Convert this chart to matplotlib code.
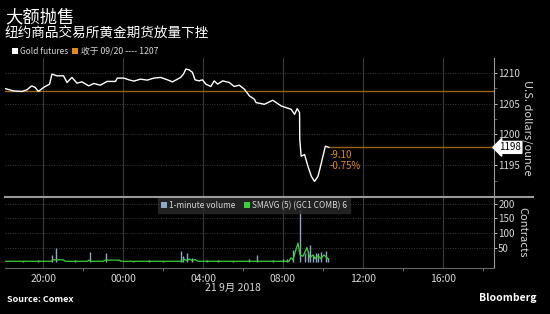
import matplotlib.pyplot as plt
import matplotlib.ticker as mticker

plt.rcParams['font.family'] = ['Noto Sans CJK SC', 'DejaVu Sans']

# hours relative to 21 Sep 00:00 (negative = evening of 20 Sep)
price_hours = [-5.91, -5.49, -5.07, -4.82, -4.57, -4.40, -4.24, -3.98, -3.68, -3.56,
               -3.31, -2.98, -2.81, -2.56, -2.31, -2.06, -1.72, -1.47, -1.14, -0.80,
               -0.38, -0.29, 0.04, 0.29, 0.54, 0.87, 1.21, 1.54, 1.88, 2.22,
               2.47, 2.72, 2.88, 3.02, 3.14, 3.30, 3.47, 3.60, 3.80, 3.97,
               4.14, 4.39, 4.56, 4.73, 4.98, 5.31, 5.56, 5.81, 6.07, 6.32,
               6.57, 6.65, 7.07, 7.49, 7.91, 8.41, 8.58, 8.71, 8.83, 8.84,
               8.91, 9.08, 9.25, 9.42, 9.58, 9.75, 9.88, 10.00, 10.12, 10.29]
price_vals = [1207.45, 1207.06, 1206.97, 1207.23, 1207.88, 1207.62, 1206.97, 1207.62, 1208.16, 1209.79,
              1209.51, 1209.51, 1208.43, 1209.25, 1208.32, 1208.53, 1207.88, 1208.27, 1207.99, 1208.60,
              1208.60, 1209.14, 1209.14, 1208.86, 1208.65, 1208.97, 1208.81, 1209.14, 1209.25, 1208.86,
              1208.53, 1208.97, 1209.25, 1209.79, 1210.60, 1210.49, 1210.07, 1208.86, 1208.69, 1208.86,
              1208.16, 1207.78, 1208.69, 1208.16, 1208.69, 1208.43, 1207.78, 1207.99, 1207.34, 1206.25,
              1205.71, 1205.17, 1204.89, 1205.55, 1204.62, 1204.08, 1203.26, 1204.19, 1203.54, 1199.18,
              1196.46, 1196.74, 1194.83, 1193.20, 1192.38, 1193.20, 1194.83, 1196.46, 1198.09, 1197.90]
prev_close = 1207
last_price = 1197.9

vol_hours = [-5.0, -4.24, -3.56, -3.35, -2.4, -1.64, -0.88, 0.5, 1.3, 2.0,
             2.88, 3.02, 3.22, 3.47, 4.2, 4.73, 5.5, 6.32, 6.70, 7.5,
             8.0, 8.2, 8.50, 8.86, 9.08, 9.25, 9.33, 9.50, 9.63, 9.75,
             9.92, 10.14, 10.26]
vol_vals = [4, 9, 26, 49, 6, 35, 30, 5, 6, 5,
            37, 20, 30, 15, 6, 8, 5, 10, 23, 8,
            10, 12, 43, 179, 33, 37, 60, 23, 30, 33,
            36, 37, 15]

sma_hours = [-5.91, -3.6, -3.5, -3.0, -2.9, -1.8, -1.7, -1.6, -1.0, -0.9,
             -0.2, -0.1, 3.0, 3.05, 3.2, 3.3, 3.45, 3.6, 3.75, 8.3,
             8.4, 8.5, 8.75, 8.85, 9.0, 9.2, 9.35, 9.5, 9.6, 9.75,
             9.9, 10.05, 10.2, 10.29]
sma_vals = [3, 3, 8, 8, 3, 3, 7, 3, 3, 7,
            7, 3, 3, 10, 5, 11, 6, 9, 3, 3,
            15, 8, 66, 25, 20, 50, 15, 25, 12, 22,
            12, 25, 15, 10]

tick_hours = [-4, 0, 4, 8, 12, 16]
tick_labels = ['20:00', '00:00', '04:00', '08:00', '12:00', '16:00']

bg = 'black'
grid_c = '#3a3a3a'
txt_c = '#d8d8d8'
orange = '#e08a1e'
orange_line = '#9a6414'

fig = plt.figure(figsize=(5.5, 3.14), dpi=100, facecolor=bg)
ax1 = fig.add_axes([5/550, 117.3/314, 489/550, 138.7/314], facecolor=bg)
ax2 = fig.add_axes([5/550, 46/314, 489/550, 71.3/314], facecolor=bg, sharex=ax1)

xmin, xmax = -5.91, 18.56

# price panel
ax1.plot(price_hours, price_vals, color='white', lw=1.0, zorder=3)
ax1.axhline(prev_close, color=orange_line, lw=1.0, zorder=2)
ax1.plot([price_hours[-1], xmax], [last_price, last_price], color=orange_line, lw=1.0, zorder=2)
ax1.set_xlim(xmin, xmax)
ax1.set_ylim(1189.9, 1212.4)
ax1.set_yticks([1195, 1200, 1205, 1210])
ax1.yaxis.set_minor_locator(mticker.MultipleLocator(2.5))
ax1.text(price_hours[-1] + 0.05, 1196.7, '-9.10', color=orange, fontsize=7, va='center')
ax1.text(price_hours[-1] + 0.05, 1194.9, '-0.75%', color=orange, fontsize=7, va='center')
ax1.text(xmax + 0.25, last_price, '1198', color='black', fontsize=7, va='center', ha='left',
         bbox=dict(boxstyle='larrow,pad=0.1', fc='white', ec='white'), clip_on=False)
ax1.set_ylabel('U.S. dollars/ounce', color=txt_c, fontsize=8, rotation=-90, labelpad=9)

# volume panel
ax2.vlines(vol_hours, 0, vol_vals, color='#8fa6c6', lw=1.0, zorder=2)
ax2.plot(sma_hours, sma_vals, color='#3ad13a', lw=0.9, zorder=3)
ax2.set_ylim(-20, 224)
ax2.set_yticks([50, 100, 150, 200])
ax2.set_ylabel('Contracts', color=txt_c, fontsize=8, rotation=-90, labelpad=9)
ax2.set_xticks(tick_hours)
ax2.set_xticklabels(tick_labels)
ax2.xaxis.set_minor_locator(mticker.MultipleLocator(2))

for ax in (ax1, ax2):
    ax.yaxis.tick_right()
    ax.yaxis.set_label_position('right')
    ax.tick_params(axis='y', colors=txt_c, labelsize=7, length=2, width=0.6, pad=1)
    ax.tick_params(axis='y', which='minor', colors='#888888', length=2, width=0.5)
    ax.tick_params(axis='x', colors=txt_c, labelsize=7.5, length=0, pad=4)
    ax.tick_params(axis='x', which='minor', length=2, colors='#888888')
    for s in ('top', 'left', 'bottom'):
        ax.spines[s].set_visible(False)
    ax.spines['right'].set_color('#999999')
    ax.spines['right'].set_linewidth(0.8)
    ax.grid(axis='y', color=grid_c, ls=(0, (1, 1.5)), lw=0.7)
    ax.grid(axis='x', color=grid_c, ls='-', lw=0.8)
    ax.set_axisbelow(True)
ax1.tick_params(axis='x', which='both', labelbottom=False, length=0)
ax1.set_xticks(tick_hours)
ax2.spines['bottom'].set_visible(True)
ax2.spines['bottom'].set_color('#666666')

# panel separator
fig.add_artist(plt.Line2D([5/550, 533/550], [117.3/314, 117.3/314], color='#9a9a9a', lw=1.5))

# volume legend
leg_h = [plt.Rectangle((0, 0), 1, 1, fc='#8fa6c6'), plt.Rectangle((0, 0), 1, 1, fc='#3ad13a')]
lg = ax2.legend(leg_h, ['1-minute volume', 'SMAVG (5) (GC1 COMB) 6'], loc='upper left',
                bbox_to_anchor=(0.31, 1.0), ncol=2, fontsize=6, frameon=True, fancybox=False,
                handlelength=0.7, handleheight=0.7, handletextpad=0.3, columnspacing=1.0,
                borderpad=0.35, borderaxespad=0.15)
lg.get_frame().set_facecolor('#2a2a2a')
lg.get_frame().set_edgecolor('#2a2a2a')
for t in lg.get_texts():
    t.set_color(txt_c)

# titles and header legend
fig.text(5/550, 1 - 17/314, '大额抛售', color='white', fontsize=12.5, va='center')
fig.text(5/550, 1 - 33/314, '纽约商品交易所黄金期货放量下挫', color='white', fontsize=9.8, va='center')
fig.patches.append(plt.Rectangle((12/550, 1 - 54/314), 6/550, 6/314, fc='white',
                                 transform=fig.transFigure))
fig.text(20/550, 1 - 51/314, 'Gold futures', color=txt_c, fontsize=6, va='center')
fig.patches.append(plt.Rectangle((72/550, 1 - 54/314), 6/550, 6/314, fc=orange,
                                 transform=fig.transFigure))
fig.text(81/550, 1 - 51/314, '收于 09/20 ---- 1207', color=txt_c, fontsize=6.3, va='center')

# footer
fig.text(233/550, 1 - 288/314, '21 9月 2018', color=txt_c, fontsize=7.5, ha='center', va='center')
fig.text(7/550, 1 - 299/314, 'Source: Comex', color='white', fontsize=6.5, fontweight='bold', va='center')
fig.text(537/550, 1 - 298/314, 'Bloomberg', color='white', fontsize=7.5, fontweight='bold',
         ha='right', va='center')

fig.savefig('out.png', dpi=100, facecolor=bg)
